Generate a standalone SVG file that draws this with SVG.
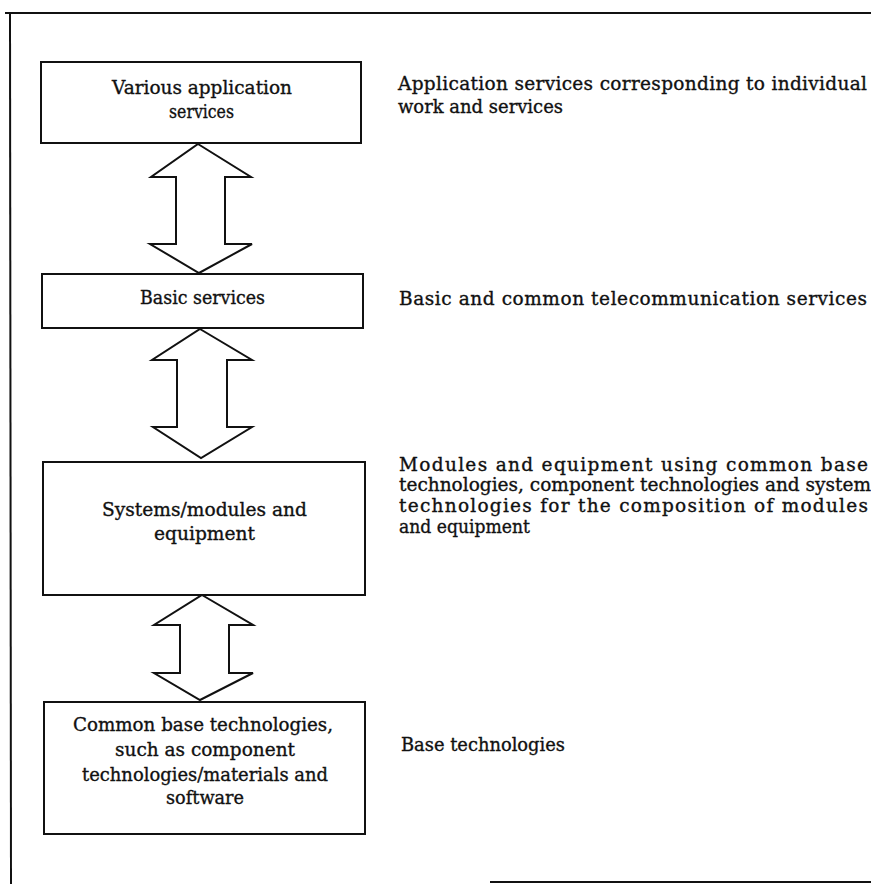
<svg xmlns="http://www.w3.org/2000/svg" width="871" height="884" viewBox="0 0 871 884">
<style>
.bx{fill:#fff;stroke:#111;stroke-width:2}
.ar{fill:#fff;stroke:#111;stroke-width:2;stroke-linejoin:miter}
.fr{fill:none;stroke:#111;stroke-width:2}
text{font-family:"DejaVu Serif","Liberation Serif",serif;font-size:18.5px;fill:#111;stroke:#111;stroke-width:0.35}
</style>
<rect width="871" height="884" fill="#fff"/>
<g id="frame">
<line class="fr" x1="5" y1="13" x2="871" y2="13"/>
<line class="fr" x1="10" y1="13" x2="11" y2="884"/>
<line class="fr" x1="490" y1="882" x2="871" y2="882"/>
</g>
<g id="connectors">
<polygon class="ar" points="198,144 251,177 225,177 225,244 252,244 199,273 150,244 176,244 176,177 151,177"/>
<polygon class="ar" points="200,329 252,360 227,360 227,427 252,427 201,458 153,427 177,427 177,360 152,360"/>
<polygon class="ar" points="202,595 253,625 229,625 229,673 253,673 200,700 154,673 180,673 180,625 154,625"/>
</g>
<g id="node1">
<rect class="bx" x="41" y="62" width="320" height="81"/>
<text x="112" y="94" textLength="180" lengthAdjust="spacingAndGlyphs">Various application</text>
<text x="169" y="118" textLength="65" lengthAdjust="spacingAndGlyphs">services</text>
</g>
<g id="node2">
<rect class="bx" x="42" y="274" width="321" height="54"/>
<text x="140" y="304" textLength="125" lengthAdjust="spacingAndGlyphs">Basic services</text>
</g>
<g id="node3">
<rect class="bx" x="43" y="462" width="322" height="133"/>
<text x="102" y="516" textLength="205" lengthAdjust="spacingAndGlyphs">Systems/modules and</text>
<text x="154" y="540" textLength="101" lengthAdjust="spacingAndGlyphs">equipment</text>
</g>
<g id="node4">
<rect class="bx" x="44" y="702" width="321" height="132"/>
<text x="73" y="731" textLength="260" lengthAdjust="spacingAndGlyphs">Common base technologies,</text>
<text x="115" y="756" textLength="180" lengthAdjust="spacingAndGlyphs">such as component</text>
<text x="82" y="781" textLength="246" lengthAdjust="spacingAndGlyphs">technologies/materials and</text>
<text x="166" y="804" textLength="78" lengthAdjust="spacingAndGlyphs">software</text>
</g>
<g id="desc1">
<text x="398" y="90" textLength="469">Application services corresponding to individual</text>
<text x="398" y="113" textLength="165" lengthAdjust="spacingAndGlyphs">work and services</text>
</g>
<g id="desc2">
<text x="399" y="305" textLength="468">Basic and common telecommunication services</text>
</g>
<g id="desc3">
<text x="399" y="471" textLength="469">Modules and equipment using common base</text>
<text x="399" y="491" textLength="472">technologies, component technologies and system</text>
<text x="399" y="512" textLength="469">technologies for the composition of modules</text>
<text x="399" y="533" textLength="131" lengthAdjust="spacingAndGlyphs">and equipment</text>
</g>
<g id="desc4">
<text x="401" y="751" textLength="164" lengthAdjust="spacingAndGlyphs">Base technologies</text>
</g>
</svg>
